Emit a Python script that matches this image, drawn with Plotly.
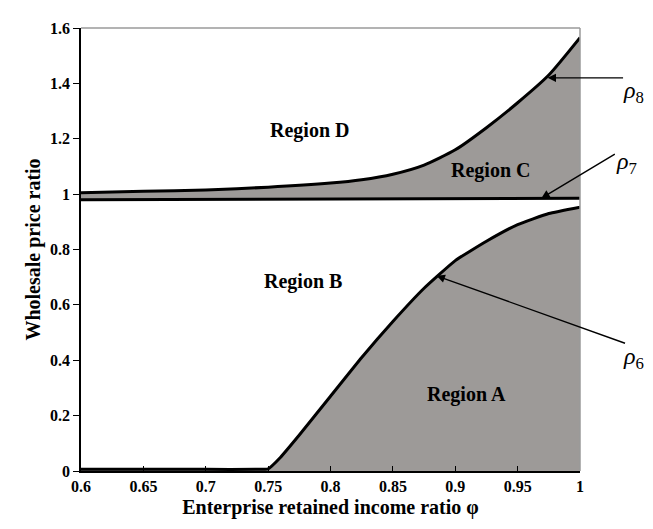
import plotly.graph_objects as go

# Data
rho6_x = [0.6, 0.7, 0.74, 0.75, 0.76, 0.775, 0.8, 0.825, 0.85, 0.875, 0.9, 0.925, 0.95, 0.975, 1.0]
rho6_y = [0.006, 0.006, 0.006, 0.008, 0.05, 0.13, 0.27, 0.41, 0.54, 0.66, 0.76, 0.83, 0.89, 0.93, 0.953]

rho7_x = [0.6, 0.8, 1.0]
rho7_y = [0.98, 0.982, 0.985]

rho8_x = [0.6, 0.65, 0.7, 0.75, 0.8, 0.825, 0.85, 0.875, 0.9, 0.925, 0.95, 0.975, 1.0]
rho8_y = [1.005, 1.01, 1.015, 1.025, 1.04, 1.052, 1.072, 1.105, 1.16, 1.24, 1.33, 1.43, 1.565]

x_ticks = [0.6, 0.65, 0.7, 0.75, 0.8, 0.85, 0.9, 0.95, 1.0]
x_tick_labels = ["0.6", "0.65", "0.7", "0.75", "0.8", "0.85", "0.9", "0.95", "1"]
y_ticks = [0, 0.2, 0.4, 0.6, 0.8, 1.0, 1.2, 1.4, 1.6]
y_tick_labels = ["0", "0.2", "0.4", "0.6", "0.8", "1", "1.2", "1.4", "1.6"]

regions = ["Region D", "Region C", "Region B", "Region A"]
region_x = [0.783, 0.928, 0.778, 0.909]
region_y = [1.23, 1.085, 0.686, 0.277]

curve_names = ["8", "7", "6"]

FILL = "#9d9a98"
SERIF = "Liberation Serif, Times New Roman, serif"

fig = go.Figure()
fig.add_trace(go.Scatter(x=rho6_x, y=rho6_y, mode="lines", fill="tozeroy",
                         fillcolor=FILL, line=dict(color="black", width=3, shape="spline", smoothing=0.4),
                         showlegend=False, hoverinfo="skip"))
fig.add_trace(go.Scatter(x=rho7_x, y=rho7_y, mode="lines",
                         line=dict(color="black", width=3), showlegend=False, hoverinfo="skip"))
fig.add_trace(go.Scatter(x=rho8_x, y=rho8_y, mode="lines", fill="tonexty",
                         fillcolor=FILL, line=dict(color="black", width=3, shape="spline", smoothing=0.6),
                         showlegend=False, hoverinfo="skip"))

for t, x, y in zip(regions, region_x, region_y):
    fig.add_annotation(x=x, y=y, text="<b>" + t + "</b>", showarrow=False,
                       font=dict(family=SERIF, size=20, color="black"))

# Arrows (tip on curve, tail toward the label)
arrows = [(0.974, 1.42, 77, 0), (0.969, 0.985, 75, -45), (0.885, 0.705, 190, 68)]
for x, y, ax, ay in arrows:
    fig.add_annotation(x=x, y=y, ax=ax, ay=ay, text="", showarrow=True,
                       arrowhead=2, arrowsize=1.2, arrowwidth=1.4, arrowcolor="black")

# Curve labels outside the plot area (paper coordinates)
label_px = [1.108, 1.094, 1.108]
label_py = [0.855, 0.695, 0.255]
for s, x, y in zip(curve_names, label_px, label_py):
    fig.add_annotation(xref="paper", yref="paper", x=x, y=y, xanchor="center", yanchor="middle",
                       text="<i>ρ</i><sub>" + s + "</sub>", showarrow=False,
                       font=dict(family=SERIF, size=24, color="black"))

# Gray top and right frame lines
fig.add_shape(type="line", xref="paper", yref="paper", x0=0, x1=1, y0=1, y1=1,
              line=dict(color="#9a9a9a", width=1.5))
fig.add_shape(type="line", xref="paper", yref="paper", x0=1, x1=1, y0=0, y1=1,
              line=dict(color="#9a9a9a", width=1.5))

fig.update_layout(
    width=653, height=529,
    margin=dict(l=73, r=81, t=13, b=66),
    paper_bgcolor="white", plot_bgcolor="white",
    font=dict(family=SERIF, color="black"),
    xaxis=dict(range=[0.6, 1.0], tickvals=x_ticks, ticktext=x_tick_labels,
               ticks="inside", ticklen=5, tickcolor="black", tickwidth=1,
               showline=True, linecolor="black", linewidth=1.5, showgrid=False, zeroline=False,
               tickfont=dict(family=SERIF, size=16, color="black", weight="bold"),
               title=dict(text="<b>Enterprise retained income ratio φ</b>",
                          font=dict(family=SERIF, size=20, color="black"), standoff=6)),
    yaxis=dict(range=[0, 1.6], tickvals=y_ticks, ticktext=y_tick_labels,
               ticks="outside", ticklen=6, tickcolor="black", tickwidth=1,
               showline=True, linecolor="black", linewidth=1.5, showgrid=False, zeroline=False,
               tickfont=dict(family=SERIF, size=16, color="black", weight="bold"),
               title=dict(text="<b>Wholesale price ratio</b>",
                          font=dict(family=SERIF, size=20, color="black"), standoff=4)),
)

fig.write_html("out.html")
